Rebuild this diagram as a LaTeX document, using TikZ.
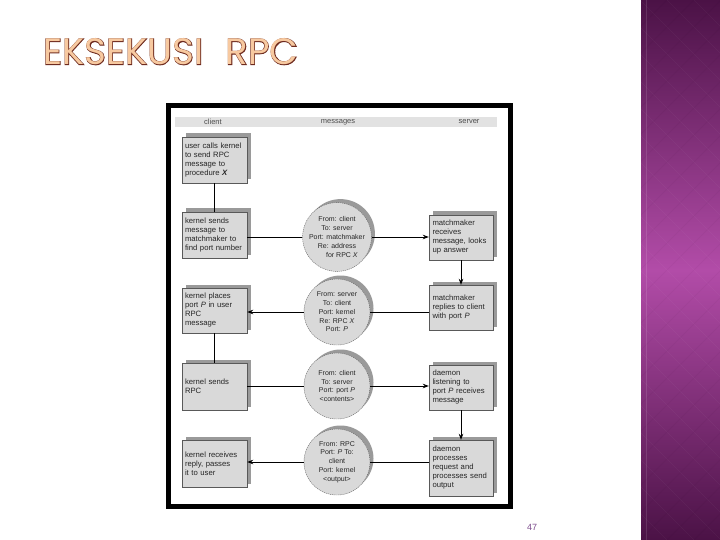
\documentclass[tikz,border=0pt]{standalone}
\usepackage{fontspec}
\setmainfont{Liberation Sans}
\newfontfamily\titlefont{Poppins}
\newfontfamily\titlefontout[FakeBold=3]{Poppins}
\usetikzlibrary{arrows.meta,shadows}
\definecolor{boxgray}{HTML}{D9D9D9}
\definecolor{shadowgray}{HTML}{9A9A9A}
\definecolor{headgray}{HTML}{E2E2E2}
\definecolor{purpledark}{HTML}{4B1246}
\definecolor{purplemid}{HTML}{B24CA8}
\definecolor{titlefill}{HTML}{F7C9A0}
\definecolor{titleline}{HTML}{6E2A1E}
\definecolor{pagenum}{HTML}{7E4E8E}
\newcommand{\ttltext}{EKSEKUSI\hspace{0.6em}RPC}
\newcommand{\nohyph}{\hyphenpenalty=10000 \exhyphenpenalty=10000 }
\begin{document}
\begin{tikzpicture}[x=1pt,y=-1pt,
  cbox/.style={draw=black!65, fill=boxgray, line width=0.4pt, minimum width=65pt,
    text width=59pt, inner xsep=3pt, inner ysep=2pt, align=left,
    font=\fontsize{7.7}{9}\selectfont, text=black!85,
    execute at begin node=\nohyph,
    drop shadow={shadow xshift=3.5pt, shadow yshift=3.5pt, fill=shadowgray, draw=none, opacity=1}},
  sbox/.style={cbox, minimum width=64pt, text width=57pt, inner xsep=3.5pt},
  msg/.style={circle, draw=black!60, dash pattern=on 1.2pt off 0.8pt, line width=0.4pt,
    fill=boxgray, minimum size=66pt, inner sep=0pt, align=center,
    font=\fontsize{7}{8.8}\selectfont, text=black!85,
    drop shadow={shadow xshift=3.5pt, shadow yshift=3.5pt, fill=shadowgray, draw=none, opacity=1}},
  hdr/.style={font=\fontsize{7.5}{9}\selectfont, text=black!70, inner sep=1pt},
  arr/.style={-{Stealth[length=6pt,width=4.5pt]}, line width=0.8pt},
  conn/.style={line width=0.8pt}]
\useasboundingbox (0,0) rectangle (720,540);
\fill[white] (0,0) rectangle (720,540);
% purple strip
\begin{scope}
\clip (641,0) rectangle (720,540);
\shade[top color=purpledark, bottom color=purpledark, middle color=purplemid] (641,0) rectangle (720,540);
\foreach \k in {100,127,...,720} {
  \draw[white, opacity=0.04, line width=0.6pt] (\k,0) -- (\k+540,540);
  \draw[black, opacity=0.03, line width=0.6pt] (\k,540) -- (\k+540,0);
}
\draw[white, opacity=0.12, line width=0.8pt] (646,0) -- (646,540);
\end{scope}
% title
\node[anchor=south west, inner sep=0pt, text=titleline] (titleout) at (43,65)
  {\resizebox{255pt}{26pt}{\titlefontout\fontsize{36}{36}\selectfont\ttltext}};
\node[anchor=south west, inner sep=0pt, text=titlefill] (title) at (43,65)
  {\resizebox{255pt}{26pt}{\titlefont\fontsize{36}{36}\selectfont\ttltext}};
% figure frame
\draw[line width=5pt] (168.5,105.5) rectangle (510.5,506.5);
\fill[headgray] (175,117) rectangle (497,127);
\node[hdr] (hclient) at (213,122) {client};
\node[hdr] (hmsg) at (338,122) {messages};
\node[hdr] (hserver) at (469,122) {server};
% client boxes
\node[cbox, minimum height=46pt] (c1) at (214.5,160) {user calls kernel\\to send RPC\\message to\\procedure \textbf{\textit{X}}};
\node[cbox, minimum height=46pt] (c2) at (214.5,235) {kernel sends\\message to\\matchmaker to\\find port number};
\node[cbox, minimum height=45pt] (c3) at (214.5,310.5) {kernel places\\port \textit{P} in user\\RPC\\message};
\node[cbox, minimum height=47pt] (c4) at (214.5,386.5) {kernel sends\\RPC};
\node[cbox, minimum height=47pt] (c5) at (214.5,463.5) {kernel receives\\reply, passes\\it to user};
% server boxes
\node[sbox, minimum height=45pt] (s1) at (461,237.5) {matchmaker\\receives\\message, looks\\up answer};
\node[sbox, minimum height=45pt] (s2) at (461,307.5) {matchmaker\\replies to client\\with port \textit{P}};
\node[sbox, minimum height=45pt] (s3) at (461,387.5) {daemon\\listening to\\port \textit{P} receives\\message};
\node[sbox, minimum height=56pt] (s4) at (461,468) {daemon\\processes\\request and\\processes send\\output};
% messages
\node[msg] (m1) at (337,237) {From: client\\To: server\\Port: matchmaker\\Re: address\\\hspace*{10pt}for RPC \textit{X}};
\node[msg] (m2) at (337,312) {From: server\\To: client\\Port: kernel\\Re: RPC \textit{X}\\Port: \textit{P}};
\node[msg] (m3) at (337,386) {From: client\\To: server\\Port: port \textit{P}\\\textless contents\textgreater};
\node[msg] (m4) at (337,462) {From: RPC\\Port: \textit{P} To:\\client\\Port: kernel\\\textless output\textgreater};
% connectors
\draw[conn] (c1.south) -- (c2.north);
\draw[arr] (s1.south) -- (s2.north);
\draw[conn] (c3.south) -- (c4.north);
\draw[arr] (s3.south) -- (s4.north);
\draw[conn] (c2.east |- m1.west) -- (m1.west);
\draw[arr] (m1.east) -- (s1.west |- m1.east);
\draw[conn] (s2.west |- m2.east) -- (m2.east);
\draw[arr] (m2.west) -- (c3.east |- m2.west);
\draw[conn] (c4.east |- m3.west) -- (m3.west);
\draw[arr] (m3.east) -- (s3.west |- m3.east);
\draw[conn] (s4.west |- m4.east) -- (m4.east);
\draw[arr] (m4.west) -- (c5.east |- m4.west);
% page number
\node[font=\fontsize{9}{9}\selectfont, text=pagenum, inner sep=1pt] (pg) at (532,527) {47};
\end{tikzpicture}
\end{document}
